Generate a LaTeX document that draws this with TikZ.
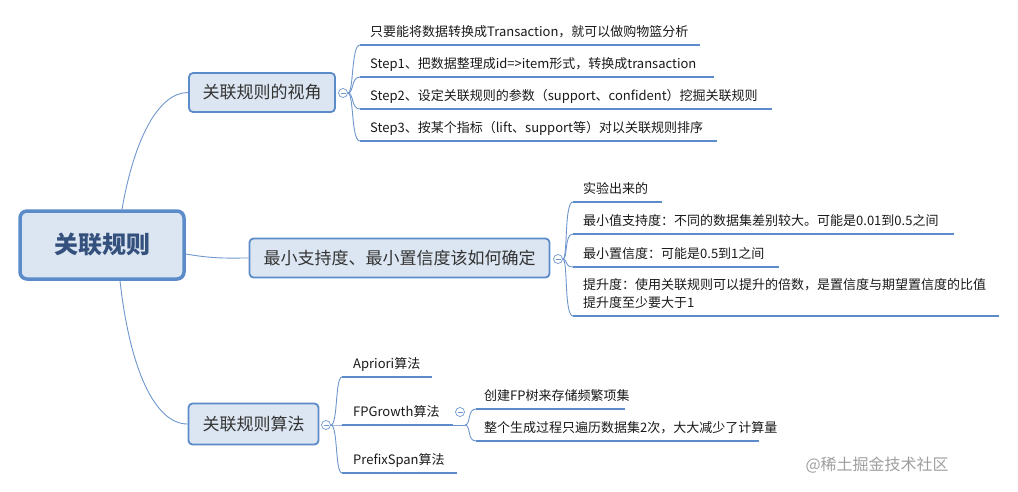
\documentclass[tikz,border=0pt]{standalone}
\usepackage{fontspec}
\setmainfont{Noto Sans CJK SC}
\definecolor{lineblue}{RGB}{91,139,201}
\definecolor{connblue}{RGB}{110,150,205}
\definecolor{boxfill}{RGB}{220,230,242}
\definecolor{roottext}{RGB}{52,80,124}
\definecolor{leaftext}{RGB}{25,25,25}
\begin{document}
\begin{tikzpicture}[x=1pt,y=-1pt,
  rootbox/.style={draw=lineblue, line width=3.5pt, fill=boxfill, rounded corners=7pt,
    minimum width=164pt, minimum height=68pt, inner sep=0pt,
    font=\fontsize{24}{28}\selectfont\bfseries, text=roottext},
  branchbox/.style={draw=lineblue, line width=1.8pt, fill=boxfill, rounded corners=4pt,
    inner sep=0pt, font=\fontsize{17}{20}\selectfont, text=black!80},
  leaf/.style={anchor=base west, inner sep=0pt, align=left,
    font=\fontsize{13}{18}\selectfont, text=leaftext},
  collapse/.style={circle, draw=connblue, line width=0.7pt, fill=white,
    minimum size=9pt, inner sep=0pt},
  conn/.style={draw=connblue, line width=0.9pt},
  uline/.style={draw=lineblue, line width=2.8pt},
  minus/.style={draw=connblue, line width=0.7pt},
  wmark/.style={font=\fontsize{16}{18}\selectfont, text=black!38}
]
\useasboundingbox (0,0) rectangle (1018,491);

% ---------- main nodes ----------
\node[rootbox] (root) at (102,245) {关联规则};
\node[branchbox, minimum width=146pt, minimum height=39pt] (b1) at (262,92.5) {关联规则的视角};
\node[branchbox, minimum width=300pt, minimum height=39pt] (b2) at (399.5,258) {最小支持度、最小置信度该如何确定};
\node[branchbox, minimum width=130pt, minimum height=41pt] (b3) at (253.5,424) {关联规则算法};

% ---------- collapse buttons ----------
\node[collapse] (c1) at (343,93) {};
\node[collapse] (c2) at (558,259) {};
\node[collapse] (c3) at (326,425) {};
\node[collapse] (c4) at (460,412) {};
\foreach \c in {c1,c2,c3,c4}{
  \draw[minus] ([xshift=-2.5pt]\c.center) -- ([xshift=2.5pt]\c.center);
}

% ---------- root connectors ----------
\coordinate (rt) at ([xshift=20pt]root.north);
\coordinate (rb) at ([xshift=18pt]root.south);
\coordinate (re) at ([yshift=-9pt]root.east);
\draw[conn] (rt) .. controls (134,140) and (158,92.5) .. (b1.west);
\draw[conn] (rb) .. controls (130,370) and (155,424) .. (b3.west);
\draw[conn] (re) .. controls (215,259) and (228,258) .. (b2.west);

% ---------- helper x positions for bracket curves ----------
\coordinate (v1) at (351,0);
\coordinate (v2) at (564,0);
\coordinate (v3) at (335,0);
\coordinate (v4) at (467,0);

% ---------- branch 1 leaves ----------
\coordinate (u11) at (360,45);
\coordinate (u12) at (360,77);
\coordinate (u13) at (360,109);
\coordinate (u14) at (360,141);
\draw[uline] (u11) -- (700,45);
\draw[uline] (u12) -- (714,77);
\draw[uline] (u13) -- (772,109);
\draw[uline] (u14) -- (717,141);
\node[leaf] (l11) at (370,36) {只要能将数据转换成Transaction，就可以做购物篮分析};
\node[leaf] (l12) at (370,68) {Step1、把数据整理成id=>item形式，转换成transaction};
\node[leaf] (l13) at (370,100) {Step2、设定关联规则的参数（support、confident）挖掘关联规则};
\node[leaf] (l14) at (370,132) {Step3、按某个指标（lift、support等）对以关联规则排序};
\foreach \u in {u11,u12,u13,u14}{
  \draw[conn] (c1.east) .. controls (354,93) and (v1 |- \u) .. (\u);
}

% ---------- branch 2 leaves ----------
\coordinate (u21) at (573,202);
\coordinate (u22) at (573,234);
\coordinate (u23) at (573,267);
\coordinate (u24) at (573,316);
\draw[uline] (u21) -- (662,202);
\draw[uline] (u22) -- (954,234);
\draw[uline] (u23) -- (779,267);
\draw[uline] (u24) -- (999,316);
\node[leaf] (l21) at (583,193) {实验出来的};
\node[leaf] (l22) at (583,225) {最小值支持度：不同的数据集差别较大。可能是0.01到0.5之间};
\node[leaf] (l23) at (583,258) {最小置信度：可能是0.5到1之间};
\node[leaf] (l24) at (583,307) {提升度：使用关联规则可以提升的倍数，是置信度与期望置信度的比值\\提升度至少要大于1};
\foreach \u in {u21,u22,u23,u24}{
  \draw[conn] (c2.east) .. controls (568,259) and (v2 |- \u) .. (\u);
}

% ---------- branch 3 leaves ----------
\coordinate (u31) at (342,377);
\coordinate (u32) at (342,425);
\coordinate (u33) at (342,473);
\coordinate (fpend) at (453,425);
\draw[uline] (u31) -- (432,377);
\draw[uline] (u32) -- (fpend);
\draw[uline] (u33) -- (457,473);
\node[leaf] (l31) at (353,368) {Apriori算法};
\node[leaf] (l32) at (353,416) {FPGrowth算法};
\node[leaf] (l33) at (353,464) {PrefixSpan算法};
\foreach \u in {u31,u32,u33}{
  \draw[conn] (c3.east) .. controls (338,425) and (v3 |- \u) .. (\u);
}

% ---------- FPGrowth leaves ----------
\coordinate (u41) at (476,409);
\coordinate (u42) at (476,441);
\draw[uline] (u41) -- (625,409);
\draw[uline] (u42) -- (759,441);
\node[leaf] (l41) at (484,400) {创建FP树来存储频繁项集};
\node[leaf] (l42) at (484,432) {整个生成过程只遍历数据集2次，大大减少了计算量};
\coordinate (fpj) at (465,425);
\draw[conn] (fpend) -- (fpj);
\foreach \u in {u41,u42}{
  \draw[conn] (fpj) .. controls (471,425) and (v4 |- \u) .. (\u);
}

% ---------- watermark ----------
\node[wmark, anchor=west] (wm) at (802,465) {@稀土掘金技术社区};
\end{tikzpicture}
\end{document}
